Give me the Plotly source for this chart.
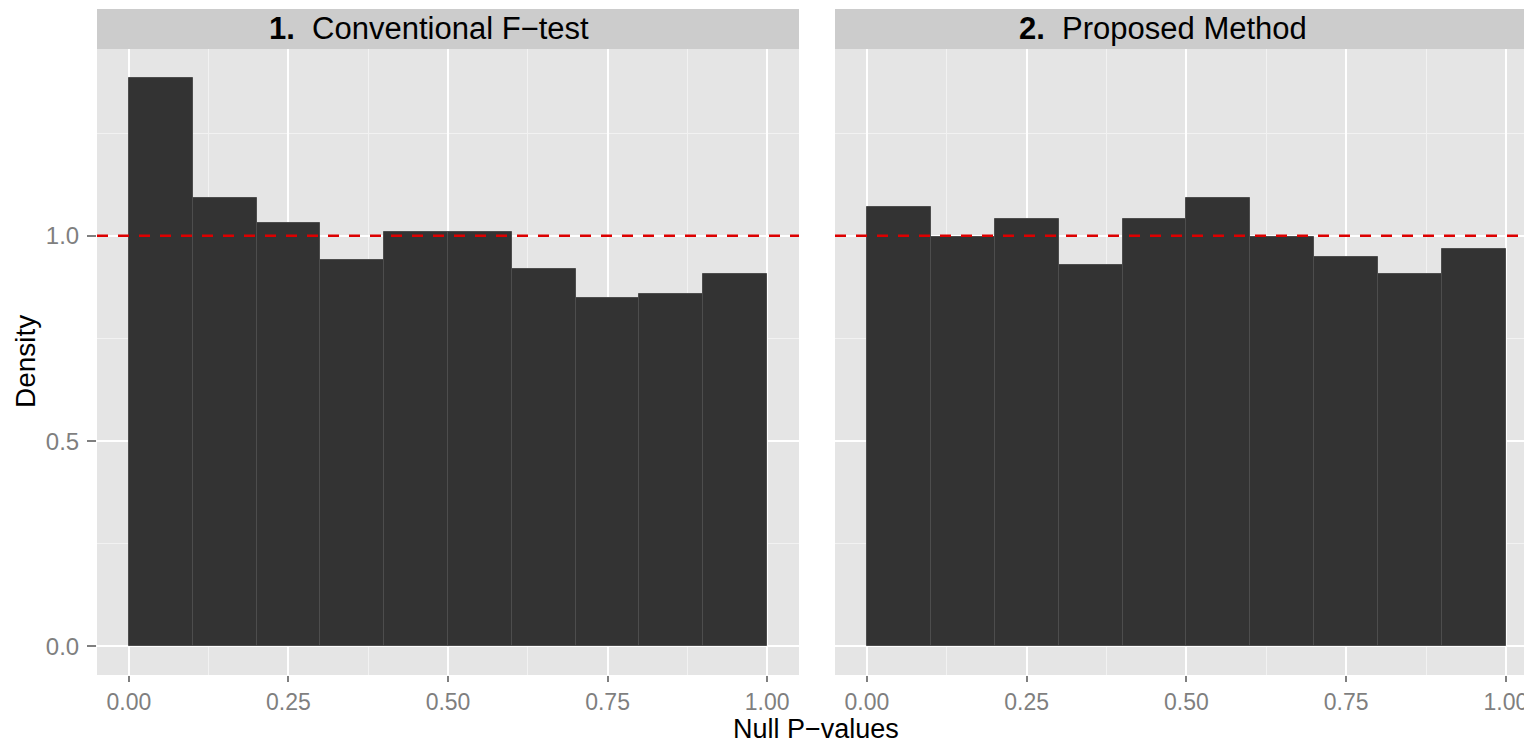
import plotly.graph_objects as go

# ---- data ----
bin_left = [0.0, 0.1, 0.2, 0.3, 0.4, 0.5, 0.6, 0.7, 0.8, 0.9]
bin_width = 0.1
density_ftest = [1.385, 1.092, 1.031, 0.940, 1.010, 1.010, 0.919, 0.849, 0.859, 0.908]
density_proposed = [1.071, 0.998, 1.041, 0.929, 1.041, 1.091, 0.998, 0.949, 0.908, 0.969]
panel_numbers = ["1.", "2."]
panel_names = ["Conventional F\u2212test", "Proposed Method"]
x_ticks = [0.0, 0.25, 0.5, 0.75, 1.0]
x_tick_labels = ["0.00", "0.25", "0.50", "0.75", "1.00"]
x_minor = [0.125, 0.375, 0.625, 0.875]
y_ticks = [0.0, 0.5, 1.0]
y_tick_labels = ["0.0", "0.5", "1.0"]
y_minor = [0.25, 0.75, 1.25]
reference_density = 1.0
x_title = "Null P\u2212values"
y_title = "Density"

FONT = "Liberation Sans, Arial, sans-serif"
OFF = 8  # default body margin of the html page
W, H = 1532 - OFF, 743 - OFF
# page-pixel layout targets
P_LEFT, P_TOP, P_BOTTOM = 97, 9, 675
P1_RIGHT, P2_LEFT = 799, 835
ML = P_LEFT - OFF
MT = P_TOP - OFF
MB = (743 - P_BOTTOM)
MR = 0
PW, PH = W - ML - MR, H - MT - MB
STRIP_H = 40
y_top = (PH - STRIP_H) / PH


def px_x(px):
    return (px - P_LEFT) / PW


def px_y(py):
    return (P_BOTTOM - py) / PH


centers = [b + bin_width / 2 for b in bin_left]

fig = go.Figure()
for i, dens in enumerate([density_ftest, density_proposed]):
    sfx = "" if i == 0 else "2"
    fig.add_trace(go.Bar(
        x=centers, y=dens, width=bin_width,
        marker=dict(color="#333333", line=dict(color="#4d4d4d", width=1)),
        xaxis="x" + sfx, yaxis="y" + sfx, showlegend=False, hoverinfo="x+y",
    ))

d1 = px_x(P1_RIGHT)
d2 = px_x(P2_LEFT)
px_per_unit = 639
xr1 = [-0.05, 1.05]
xr2 = [-0.05, -0.05 + (1532 - P2_LEFT) / px_per_unit]
yr = [-0.0695, 1.455]

xaxis_common = dict(
    tickvals=x_ticks, ticktext=x_tick_labels, showgrid=True, gridcolor="white", gridwidth=2,
    minor=dict(tickvals=x_minor, showgrid=True, gridcolor="#F2F2F2", gridwidth=1, ticks=""),
    ticks="outside", ticklen=6, tickwidth=1.5, tickcolor="#7F7F7F",
    tickfont=dict(family=FONT, size=23, color="#7F7F7F"),
    zeroline=False, showline=False, fixedrange=True,
)
yaxis_common = dict(
    range=yr, tickvals=y_ticks, ticktext=y_tick_labels, showgrid=True, gridcolor="white", gridwidth=2,
    minor=dict(tickvals=y_minor, showgrid=True, gridcolor="#F2F2F2", gridwidth=1, ticks=""),
    zeroline=False, showline=False, domain=[0, y_top], fixedrange=True,
)

fig.update_layout(
    width=W, height=H,
    margin=dict(l=ML, r=MR, t=MT, b=MB),
    paper_bgcolor="white", plot_bgcolor="#E5E5E5",
    bargap=0,
    xaxis=dict(domain=[0, d1], range=xr1, anchor="y", **xaxis_common),
    xaxis2=dict(domain=[d2, 1], range=xr2, anchor="y2", **xaxis_common),
    yaxis=dict(anchor="x", ticks="outside", ticklen=9, tickwidth=1.5, tickcolor="#7F7F7F",
               ticklabelstandoff=3,
               tickfont=dict(family=FONT, size=24, color="#7F7F7F"), **yaxis_common),
    yaxis2=dict(anchor="x2", showticklabels=False, ticks="", **yaxis_common),
    font=dict(family=FONT),
)

shapes = []
annotations = []
strip_centers_px = [429, 1163]
for i in range(2):
    sfx = "" if i == 0 else "2"
    shapes.append(dict(type="line", xref="x" + sfx + " domain", yref="y" + sfx,
                       x0=0, x1=1, y0=reference_density, y1=reference_density,
                       line=dict(color="#DD0000", width=2.5, dash="11px,10px"), layer="above"))
    shapes.append(dict(type="rect", xref="x" + sfx + " domain", yref="paper",
                       x0=0, x1=1, y0=y_top, y1=1.0, fillcolor="#CCCCCC", line=dict(width=0),
                       layer="below"))
    annotations.append(dict(
        xref="paper", yref="paper", x=px_x(strip_centers_px[i]), y=(y_top + 1) / 2,
        xanchor="center", yanchor="middle", showarrow=False,
        text="<b>" + panel_numbers[i] + "</b>  " + panel_names[i],
        font=dict(family=FONT, size=31, color="black"),
    ))

annotations.append(dict(
    xref="paper", yref="paper", x=px_x(816), y=px_y(729),
    xanchor="center", yanchor="middle", showarrow=False, text=x_title,
    font=dict(family=FONT, size=27, color="black"),
))
annotations.append(dict(
    xref="paper", yref="paper", x=px_x(25), y=px_y(362),
    xanchor="center", yanchor="middle", showarrow=False, text=y_title, textangle=-90,
    font=dict(family=FONT, size=28, color="black"),
))
fig.update_layout(shapes=shapes, annotations=annotations)

fig.write_html("out.html")
